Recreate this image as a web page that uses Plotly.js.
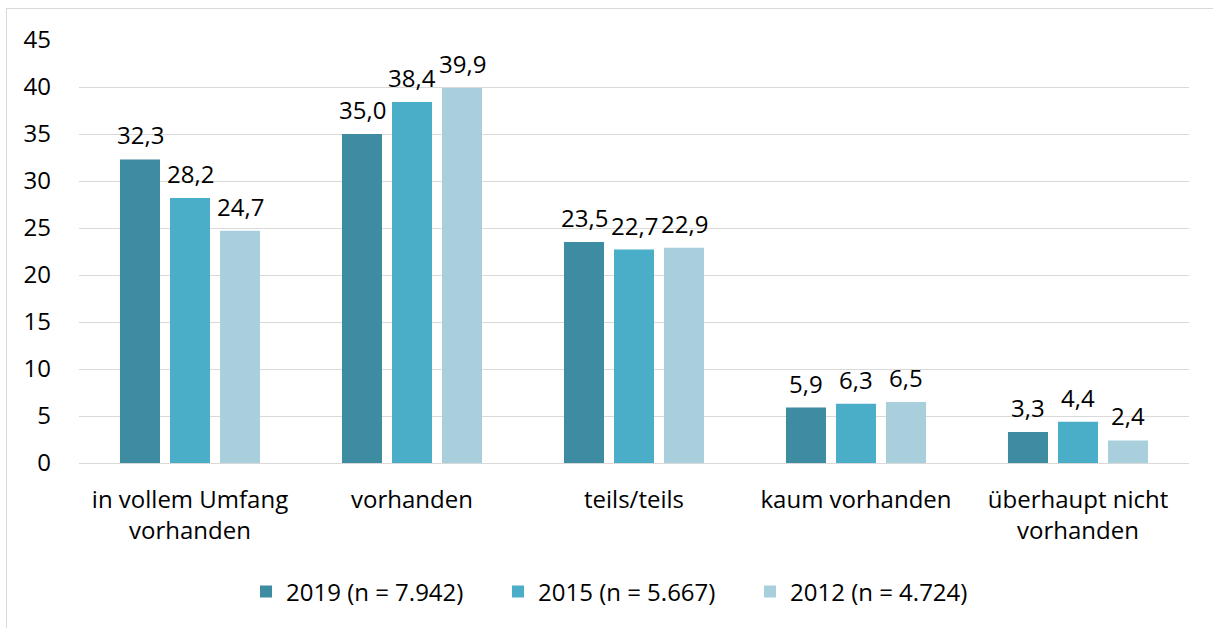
<!DOCTYPE html>
<html><head><meta charset="utf-8">
<script src="https://cdn.plot.ly/plotly-3.0.1.min.js"></script>
<style>body{margin:0;background:#fff}#frame{position:absolute;left:6px;top:8px;width:1220px;height:640px;border:1px solid #d9d9d9;pointer-events:none}</style>
</head><body>
<div id="chart" style="width:1213px;height:628px;position:absolute;left:0;top:0"></div>
<div id="frame"></div>
<script>
const categories = ['in vollem Umfang<br>vorhanden', 'vorhanden', 'teils/teils', 'kaum vorhanden', 'überhaupt nicht<br>vorhanden'];
const seriesNames = ['2019 (n = 7.942)', '2015 (n = 5.667)', '2012 (n = 4.724)'];
const values2019 = [32.3, 35.0, 23.5, 5.9, 3.3];
const values2015 = [28.2, 38.4, 22.7, 6.3, 4.4];
const values2012 = [24.7, 39.9, 22.9, 6.5, 2.4];
const yTicks = [0, 5, 10, 15, 20, 25, 30, 35, 40, 45];

const colors = ['#3d8ca1', '#4aaec8', '#a9cfdd'];
const font = '"Open Sans", Lato, sans-serif';
const fs = 24;
const allVals = [values2019, values2015, values2012];
const traces = allVals.map((v, i) => ({
  type: 'bar', x: categories, y: v, name: seriesNames[i],
  marker: {color: colors[i]},
  hoverinfo: 'none'
}));
const annotations = [];
allVals.forEach((v, i) => v.forEach((val, j) => {
  annotations.push({x: categories[j], y: val, xref: 'x', yref: 'y', text: val.toFixed(1).replace('.', ','),
    showarrow: false, xshift: (i - 1) * 50, yshift: 6, yanchor: 'bottom', xanchor: 'center',
    font: {family: font, size: fs, color: '#000'}});
}));
Plotly.newPlot('chart', traces, {
  width: 1213, height: 628,
  margin: {l: 79, r: 24, t: 40, b: 165},
  barmode: 'group', bargap: 0.324, bargroupgap: 0.2,
  paper_bgcolor: '#fff', plot_bgcolor: '#fff',
  font: {family: font, size: fs, color: '#000'},
  annotations: annotations,
  xaxis: {tickfont: {family: font, size: fs, color: '#000'}, showline: true, linecolor: '#d9d9d9', linewidth: 1, ticks: '', ticklabelstandoff: 15, automargin: false},
  yaxis: {range: [0, 45], tickvals: yTicks, ticktext: yTicks.map(String), showgrid: true, gridcolor: '#d9d9d9', gridwidth: 1,
          zeroline: false, showline: false, ticks: '', ticklabelstandoff: 27, tickfont: {family: font, size: fs, color: '#000'}, automargin: false},
  legend: {orientation: 'h', x: 0.491, xanchor: 'center', y: -0.305, yanchor: 'middle', font: {family: font, size: fs, color: '#000'}, traceorder: 'normal', itemwidth: 30,
           entrywidth: 207, entrywidthmode: 'pixels'},
  showlegend: true
}, {displayModeBar: false, staticPlot: true});
</script>
</body></html>
